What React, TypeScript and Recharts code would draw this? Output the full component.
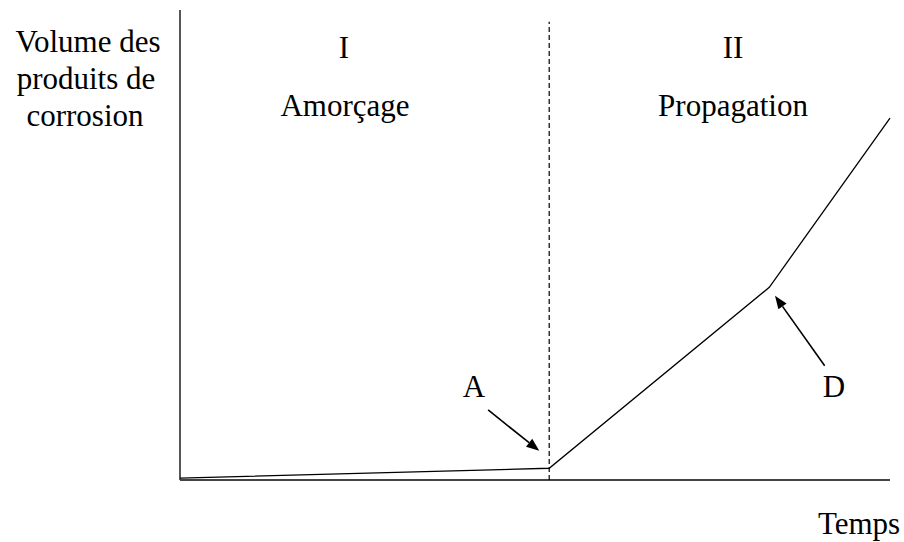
import React from 'react';
import { LineChart, Line, XAxis, YAxis, ReferenceLine } from 'recharts';

// time (arbitrary units, 0-100) and volume of corrosion products
const temps = [0, 52, 83, 100];
const volume = [0.4, 2.5, 41, 77];

// phase boundary (end of initiation) and its dashed marker height
const boundaryX = 52;
const boundaryTop = 97.5;

// annotation arrows: [tail, tip]
const arrowA = [{ x: 43.4, y: 14.9 }, { x: 50.6, y: 6.2 }];
const arrowD = [{ x: 90.8, y: 24.3 }, { x: 83.8, y: 39.2 }];

const data = temps.map((t, i) => ({ t, v: volume[i] }));

const FONT = '"Liberation Serif", "Times New Roman", serif';
const AXIS = '#444';

const Arrow = (props: any) => {
  const { x1, y1, x2, y2 } = props;
  const ang = Math.atan2(y2 - y1, x2 - x1);
  const len = 13;
  const half = 5;
  const bx = x2 - len * Math.cos(ang);
  const by = y2 - len * Math.sin(ang);
  const px = -Math.sin(ang) * half;
  const py = Math.cos(ang) * half;
  return (
    <g>
      <line x1={x1} y1={y1} x2={bx} y2={by} stroke="#000" strokeWidth={1.6} />
      <polygon points={`${x2},${y2} ${bx + px},${by + py} ${bx - px},${by - py}`} fill="#000" />
    </g>
  );
};

const labels = [
  { text: 'Volume des', x: 88, y: 52 },
  { text: 'produits de', x: 86, y: 89 },
  { text: 'corrosion', x: 85, y: 126 },
  { text: 'I', x: 344, y: 58 },
  { text: 'Amorçage', x: 345, y: 116 },
  { text: 'II', x: 733, y: 58 },
  { text: 'Propagation', x: 733, y: 116 },
  { text: 'A', x: 474, y: 397 },
  { text: 'D', x: 834, y: 397 },
  { text: 'Temps', x: 859, y: 534 },
];

export default function App() {
  return (
    <div style={{ position: 'absolute', left: 0, top: 0, width: 904, height: 542, background: '#fff' }}>
      <LineChart width={904} height={542} data={data} margin={{ top: 10, right: 14, bottom: 62, left: 180 }}>
        <XAxis dataKey="t" type="number" domain={[0, 100]} hide />
        <YAxis type="number" domain={[0, 100]} hide />
        <ReferenceLine segment={[{ x: 0, y: 0 }, { x: 100, y: 0 }]} stroke={AXIS} strokeWidth={1.8} />
        <ReferenceLine segment={[{ x: 0, y: 0 }, { x: 0, y: 100 }]} stroke={AXIS} strokeWidth={1.8} />
        <ReferenceLine
          segment={[{ x: boundaryX, y: 0 }, { x: boundaryX, y: boundaryTop }]}
          stroke="#000"
          strokeWidth={1.2}
          strokeDasharray="5 3"
        />
        <Line
          dataKey="v"
          type="linear"
          stroke="#000"
          strokeWidth={1.3}
          dot={false}
          activeDot={false}
          isAnimationActive={false}
        />
        <ReferenceLine segment={arrowA} shape={<Arrow />} />
        <ReferenceLine segment={arrowD} shape={<Arrow />} />
      </LineChart>
      <svg width={904} height={542} style={{ position: 'absolute', left: 0, top: 0, pointerEvents: 'none' }}>
        {labels.map((l) => (
          <text key={l.text} x={l.x} y={l.y} textAnchor="middle" fontFamily={FONT} fontSize={31} fill="#000">
            {l.text}
          </text>
        ))}
      </svg>
    </div>
  );
}
